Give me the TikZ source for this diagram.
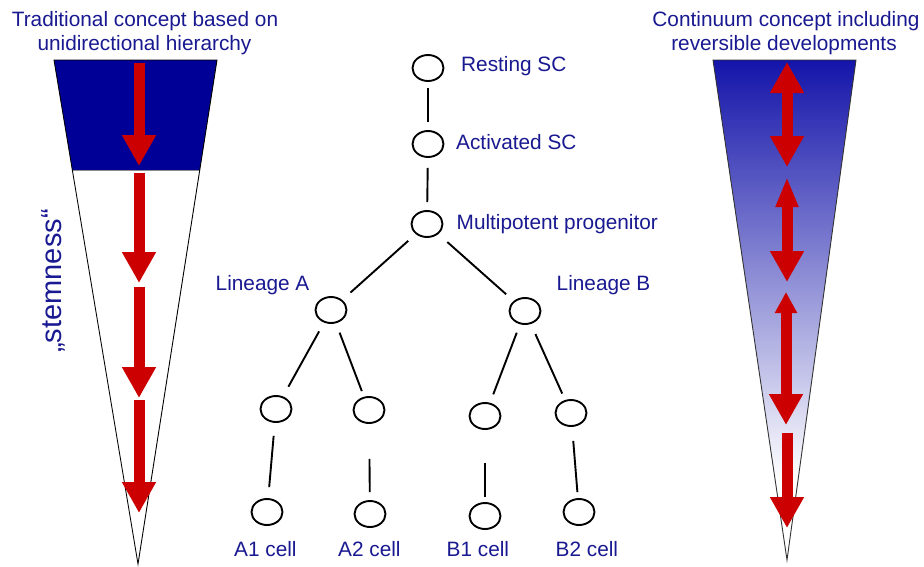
\documentclass[tikz,border=0pt]{standalone}
\usepackage{fontspec}
\setmainfont{Liberation Sans}
\usetikzlibrary{arrows.meta,shapes.geometric}

\definecolor{labelblue}{RGB}{25,25,145}
\definecolor{navyfill}{RGB}{0,0,150}
\definecolor{gradtop}{RGB}{20,20,170}
\definecolor{gradmid}{RGB}{165,165,215}
\definecolor{arrowred}{RGB}{204,0,0}

\tikzset{
  cell/.style={ellipse, draw=black, line width=1.9pt, minimum width=31pt,
    minimum height=26pt, inner sep=0pt},
  link/.style={line width=1.9pt, black},
  lbl/.style={anchor=base west, inner sep=0pt, text=labelblue,
    font=\fontsize{20.8}{25}\selectfont},
  title/.style={anchor=base, inner sep=0pt, text=labelblue,
    font=\fontsize{20.8}{25}\selectfont},
  redarrow/.style={draw=arrowred, line width=11pt},
  bighead/.tip={Triangle[length=31pt,width=32pt,fill=arrowred]},
  midhead/.tip={Triangle[length=30pt,width=21pt,fill=arrowred]},
  smallhead/.tip={Triangle[length=21pt,width=21pt,fill=arrowred]},
}

\begin{document}
\begin{tikzpicture}[x=1pt,y=-1pt]
\useasboundingbox[fill=white] (0,0) rectangle (924,566);

% ---------- left cone: unidirectional hierarchy ----------
\begin{scope}
  \clip (54,60) -- (217,60) -- (138,564) -- cycle;
  \fill[navyfill] (0,60) rectangle (924,170);
  \draw[line width=1pt, black!45] (0,170) -- (924,170);
\end{scope}
\draw[line width=0.9pt, black] (54,60) -- (217,60) -- (138,564) -- cycle;

\draw[redarrow, -{bighead}] (139,63) -- (139,166);
\draw[redarrow, -{bighead}] (139,173) -- (139,283);
\draw[redarrow, -{bighead}] (139,287) -- (139,398);
\draw[redarrow, -{bighead}] (139,400) -- (139,513);

\node[title] (tl1) at (145,26) {Traditional concept based on};
\node[title] (tl2) at (144.5,50) {unidirectional hierarchy};

\node[rotate=90, anchor=base, inner sep=0pt, text=labelblue,
  font=\fontsize{29}{34}\selectfont] (stem) at (61,281) {„stemness“};

% ---------- right cone: continuum ----------
\begin{scope}
  \clip (713,60) -- (856,60) -- (787,560) -- cycle;
  \shade[top color=gradtop, middle color=gradmid, bottom color=white]
    (700,60) rectangle (870,480);
\end{scope}
\draw[line width=0.9pt, black!80] (713,60) -- (856,60) -- (787,560) -- cycle;

\draw[redarrow, {bighead}-{bighead}] (787,62) -- (787,167);
\draw[redarrow, {midhead}-{bighead}] (787,177) -- (787,282);
\draw[redarrow, {smallhead}-{bighead}] (786,292) -- (786,425);
\draw[redarrow, -{bighead}] (787,433) -- (787,528);

\node[title] (tr1) at (786,26) {Continuum concept including};
\node[title] (tr2) at (784,50) {reversible developments};

% ---------- lineage tree ----------
\node[cell] (rest)  at (428,68)  {};
\node[cell] (act)   at (428,144) {};
\node[cell] (multi) at (427,224) {};
\node[cell] (linA)  at (331,310) {};
\node[cell] (linB)  at (525,311) {};
\node[cell] (a1p)   at (276,409) {};
\node[cell] (a2p)   at (369,410) {};
\node[cell] (b1p)   at (485,416) {};
\node[cell] (b2p)   at (571,413) {};
\node[cell] (a1)    at (267,512) {};
\node[cell] (a2)    at (370,514) {};
\node[cell] (b1)    at (485,516) {};
\node[cell] (b2)    at (579,512) {};

\draw[link, shorten <=6pt,  shorten >=8pt]  (rest) -- (act);
\draw[link, shorten <=10pt, shorten >=8pt]  (act) -- (multi);
\draw[link, shorten <=10pt, shorten >=11pt] (multi) -- (linA);
\draw[link, shorten <=12pt, shorten >=10pt] (multi) -- (linB);
\draw[link, shorten <=10pt, shorten >=11pt] (linA) -- (a1p);
\draw[link, shorten <=10pt, shorten >=6pt]  (linA) -- (a2p);
\draw[link, shorten <=9pt,  shorten >=9pt]  (linB) -- (b1p);
\draw[link, shorten <=11pt, shorten >=7pt]  (linB) -- (b2p);
\draw[link, shorten <=13pt, shorten >=11pt] (a1p) -- (a1);
\draw[link, shorten <=35pt, shorten >=8pt]  (a2p) -- (a2);
\draw[link, shorten <=33pt, shorten >=5pt]  (b1p) -- (b1);
\draw[link, shorten <=14pt, shorten >=6pt]  (b2p) -- (b2);

\node[lbl] (lrest)  at (461,71)    {Resting SC};
\node[lbl] (lact)   at (456,149)   {Activated SC};
\node[lbl] (lmulti) at (456.5,229) {Multipotent progenitor};
\node[lbl] (llinA)  at (215.5,290) {Lineage A};
\node[lbl] (llinB)  at (556.5,290) {Lineage B};
\node[lbl] (la1)    at (234,556)   {A1 cell};
\node[lbl] (la2)    at (338,556)   {A2 cell};
\node[lbl] (lb1)    at (446.5,556) {B1 cell};
\node[lbl] (lb2)    at (555.5,556) {B2 cell};
\end{tikzpicture}
\end{document}
